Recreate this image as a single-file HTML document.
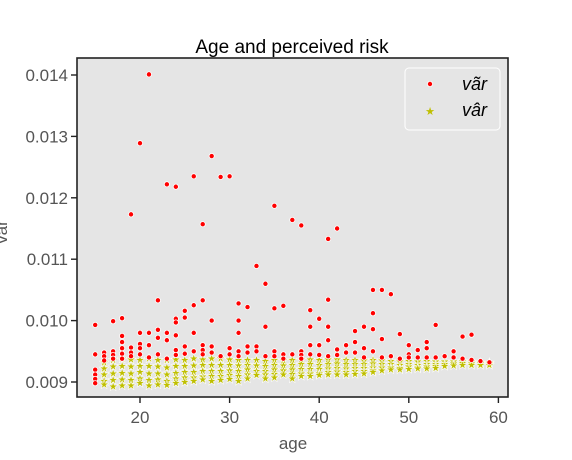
<!DOCTYPE html>
<html><head><meta charset="utf-8"><style>
html,body{margin:0;padding:0;background:#fff;}
svg{display:block;font-family:"Liberation Sans",sans-serif;}
</style></head><body>
<svg id="chart" width="572" height="460" viewBox="0 0 572 460">
<rect x="77" y="58" width="431" height="339" fill="#e5e5e5" stroke="#222" stroke-width="1.6"/>
<text x="292" y="53" text-anchor="middle" font-size="19" fill="#000">Age and perceived risk</text>
<text x="293" y="449" text-anchor="middle" font-size="17" fill="#555">age</text>
<text x="0" y="0" transform="translate(7,232) rotate(-90)" text-anchor="middle" font-size="17" fill="#555">var</text>
<g id="xt"></g>
<g id="yt"></g>
<g id="yel"></g>
<g id="red"></g>
<g>
<rect x="405" y="68" width="95" height="62" rx="4" fill="#e5e5e5" stroke="#fff" stroke-width="1"/>
<circle cx="430" cy="84" r="2.6" fill="#f00" stroke="#fff" stroke-width="0.8"/>
<text x="462" y="90" font-size="18" font-style="italic" fill="#000">vãr</text>
<text x="430" y="115" text-anchor="middle" font-size="11" fill="#bfbf00">★</text>
<text x="462" y="116" font-size="18" font-style="italic" fill="#000">vâr</text>
</g>
</svg>
<script>
const xTicks=[20,30,40,50,60];
const yTicks=[0.009,0.010,0.011,0.012,0.013,0.014];
const yTickLabels=["0.009","0.010","0.011","0.012","0.013","0.014"];
const ages=[15,16,17,18,19,20,21,22,23,24,25,26,27,28,29,30,31,32,33,34,35,36,37,38,39,40,41,42,43,44,45,46,47,48,49,50,51,52,53,54,55,56,57,58,59];
const redValues=[
[0.00993,0.00945,0.00920,0.00912,0.00905,0.00898],
[0.00948,0.00942,0.00935],
[0.00999,0.00950,0.00944,0.00938],
[0.01004,0.00975,0.00965,0.00955,0.00946,0.00938],
[0.01173,0.00956,0.00948,0.00942],
[0.01289,0.00980,0.00962,0.00955,0.00945],
[0.01401,0.00980,0.00960,0.00940],
[0.01033,0.00985,0.00972,0.00945],
[0.01222,0.00980,0.00968,0.00938],
[0.01218,0.01003,0.00997,0.00976,0.00952,0.00944],
[0.01016,0.01005,0.00958,0.00946],
[0.01235,0.01025,0.00980,0.00950],
[0.01157,0.01033,0.00960,0.00952,0.00945],
[0.01268,0.01000,0.00958,0.00948],
[0.01234,0.00942],
[0.01235,0.00955,0.00945],
[0.01028,0.01000,0.00980,0.00950,0.00942],
[0.01022,0.00958,0.00948],
[0.01089,0.00958,0.00950],
[0.01060,0.00990,0.00942],
[0.01187,0.01020,0.00950,0.00942],
[0.01024,0.00945,0.00938],
[0.01164,0.00945],
[0.01155,0.00950,0.00944,0.00938],
[0.01017,0.00990,0.00960,0.00945],
[0.01003,0.00960,0.00944],
[0.01133,0.01034,0.00990,0.00968,0.00942],
[0.01150,0.00953,0.00944],
[0.00960,0.00948],
[0.00983,0.00965,0.00948],
[0.00990,0.00955,0.00940],
[0.01050,0.01012,0.00986,0.00950],
[0.01050,0.00970,0.00940],
[0.01043,0.00942],
[0.00978,0.00938],
[0.00960,0.00945,0.00940],
[0.00952,0.00940],
[0.00965,0.00955,0.00940],
[0.00993,0.00940],
[0.00942],
[0.00950,0.00940],
[0.00974,0.00938],
[0.00977,0.00936],
[0.00934],
[0.00932]];
const yellowValues=[
[],
[0.00932,0.00922,0.00912,0.00902,0.00896],
[0.00936,0.00925,0.00914,0.00903,0.00893],
[0.00938,0.00926,0.00915,0.00904,0.00894],
[0.00937,0.00925,0.00914,0.00903,0.00894],
[0.00936,0.00926,0.00916,0.00906,0.00898],
[0.00938,0.00926,0.00914,0.00903,0.00894],
[0.00936,0.00925,0.00914,0.00904,0.00896],
[0.00936,0.00924,0.00912,0.00902,0.00895],
[0.00937,0.00926,0.00915,0.00906,0.00898],
[0.00936,0.00926,0.00916,0.00907,0.00900],
[0.00938,0.00927,0.00916,0.00907,0.00902],
[0.00937,0.00928,0.00918,0.00909,0.00904],
[0.00938,0.00928,0.00918,0.00910,0.00902],
[0.00938,0.00928,0.00918,0.00910,0.00903],
[0.00937,0.00928,0.00919,0.00911,0.00905],
[0.00936,0.00927,0.00918,0.00910,0.00902],
[0.00936,0.00928,0.00920,0.00912,0.00906],
[0.00936,0.00927,0.00918,0.00911],
[0.00934,0.00926,0.00918,0.00912,0.00906],
[0.00936,0.00928,0.00920,0.00913,0.00907],
[0.00935,0.00927,0.00919,0.00912],
[0.00936,0.00928,0.00920,0.00913,0.00906],
[0.00937,0.00929,0.00921,0.00914,0.00910],
[0.00937,0.00929,0.00921,0.00914,0.00910],
[0.00936,0.00928,0.00921,0.00914,0.00911],
[0.00937,0.00929,0.00922,0.00916,0.00912],
[0.00937,0.00930,0.00923,0.00917,0.00912],
[0.00936,0.00929,0.00922,0.00916,0.00912],
[0.00936,0.00929,0.00923,0.00918,0.00913],
[0.00935,0.00929,0.00923,0.00918,0.00914],
[0.00936,0.00930,0.00924,0.00919,0.00916],
[0.00935,0.00929,0.00924,0.00919],
[0.00934,0.00929,0.00924,0.00920],
[0.00933,0.00928,0.00923,0.00920],
[0.00934,0.00929,0.00925,0.00921],
[0.00933,0.00928,0.00924,0.00922],
[0.00934,0.00929,0.00925,0.00922],
[0.00933,0.00929,0.00926,0.00923],
[0.00933,0.00929,0.00926],
[0.00933,0.00930,0.00927],
[0.00934,0.00931,0.00928],
[0.00933,0.00930,0.00928],
[0.00932,0.00930,0.00928],
[0.00932,0.00930,0.00928]];
const NS="http://www.w3.org/2000/svg";
function xs(v){return 140+(v-20)*8.96;}
function ys(v){return 382-(v-0.009)*61400;}
function mk(t,a,p){const e=document.createElementNS(NS,t);for(const k in a)e.setAttribute(k,a[k]);p.appendChild(e);return e;}
const xt=document.getElementById('xt'),yt=document.getElementById('yt');
xTicks.forEach(v=>{
 const l=mk('line',{x1:xs(v),x2:xs(v),y1:397,y2:403,stroke:'#222','stroke-width':1.4},xt);
 
 
 const t=mk('text',{x:xs(v),y:423,'text-anchor':'middle','font-size':17,fill:'#555'},xt);
 t.textContent=v;
 
 
});
yTicks.forEach((v,i)=>{
 const l=mk('line',{x1:71,x2:77,y1:ys(v),y2:ys(v),stroke:'#222','stroke-width':1.4},yt);
 
 
 const t=mk('text',{x:68,y:ys(v)+6,'text-anchor':'end','font-size':17,fill:'#555'},yt);
 t.textContent=yTickLabels[i];
 
 
});
const yel=document.getElementById('yel'),red=document.getElementById('red');
ages.forEach((a,i)=>{
 yellowValues[i].forEach(v=>{
  const t=mk('text',{x:xs(a),y:ys(v)+4,'text-anchor':'middle','font-size':12,fill:'#bfbf00',stroke:'#fff','stroke-width':0.5},yel);
  t.textContent='★';
  
  
 });
 redValues[i].forEach(v=>{
  const c=mk('circle',{cx:xs(a),cy:ys(v),r:2.6,fill:'#f00',stroke:'#fff','stroke-width':0.8},red);
  
  
 });
});
</script>
</body></html>
